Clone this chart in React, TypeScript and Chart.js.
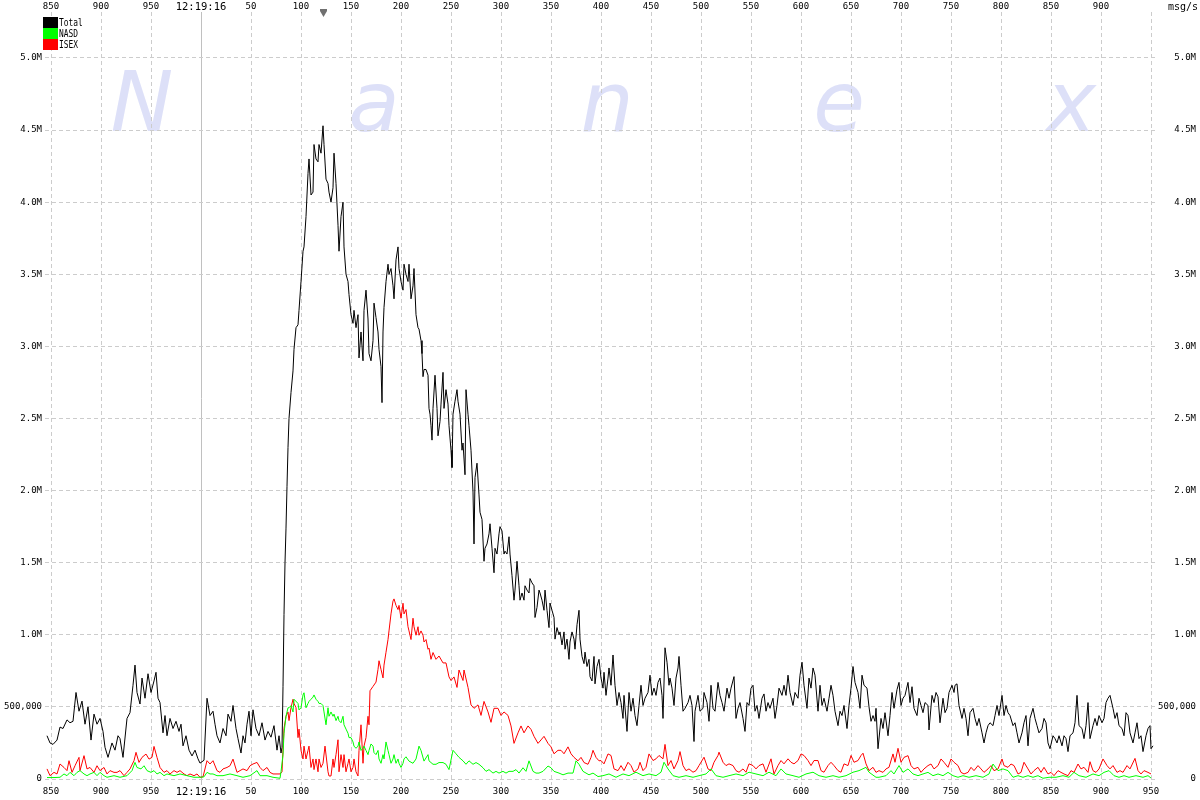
import React, { useEffect, useRef } from 'react';
import { Chart, registerables } from 'chart.js';

Chart.register(...registerables);

// Samples: [milliseconds relative to 12:19:16.000, thousands of msg/s]
const TOTAL: [number, number][] = [
  [-154, 300], [-151, 250], [-148, 240], [-144, 270], [-141, 360], [-138, 350], [-134, 410], [-131, 390], [-128, 400], [-125, 600],
  [-122, 470], [-119, 540], [-116, 380], [-113, 500], [-110, 270], [-107, 450], [-104, 380], [-101, 420], [-98, 330], [-96, 220],
  [-93, 150], [-89, 250], [-86, 200], [-83, 300], [-81, 280], [-78, 150], [-74, 420], [-71, 460], [-68, 650], [-66, 790],
  [-64, 600], [-61, 520], [-59, 700], [-56, 560], [-53, 730], [-50, 600], [-47, 680], [-45, 740], [-43, 560], [-41, 530],
  [-38, 320], [-36, 440], [-34, 300], [-31, 420], [-28, 350], [-25, 400], [-22, 330], [-20, 380], [-18, 230], [-15, 300],
  [-12, 200], [-9, 160], [-6, 200], [-3, 140], [-1, 110], [3, 130], [6, 560], [9, 440], [12, 470], [14, 380],
  [16, 300], [19, 250], [22, 350], [25, 300], [27, 450], [30, 400], [32, 510], [35, 350], [37, 280], [40, 180],
  [42, 300], [44, 250], [46, 380], [48, 470], [50, 300], [52, 480], [55, 350], [58, 300], [61, 390], [64, 270],
  [67, 330], [70, 290], [73, 370], [76, 200], [78, 300], [80, 180], [81, 220],
  [82, 640], [83, 1140], [84, 1500], [85, 1740], [86, 2030], [87, 2300], [88, 2500], [90, 2680], [92, 2830], [93, 2980],
  [95, 3130], [97, 3150], [98, 3250], [100, 3450], [102, 3660], [103, 3690], [105, 3900], [107, 4200], [108, 4300], [110, 4050],
  [112, 4070], [113, 4400], [115, 4300], [117, 4280], [118, 4400], [120, 4340], [122, 4530], [123, 4400], [125, 4160], [127, 4130],
  [128, 4070], [130, 4000], [132, 4100], [133, 4340], [135, 4130], [137, 3840], [138, 3660], [140, 3900], [142, 4000], [143, 3690],
  [145, 3500], [147, 3450], [148, 3360], [150, 3220], [152, 3160], [153, 3250], [155, 3130], [157, 3220], [158, 2920], [160, 3100],
  [162, 2900], [163, 3250], [165, 3390], [167, 3190], [168, 2950], [170, 2900], [172, 3040], [173, 3300], [175, 3200], [177, 3100],
  [178, 2980], [180, 2860], [181, 2610], [182, 3100], [183, 3270], [185, 3450], [187, 3570], [188, 3500], [190, 3540], [192, 3420],
  [193, 3330], [195, 3600], [197, 3690], [198, 3540], [200, 3450], [202, 3390], [203, 3570], [205, 3500], [207, 3450], [208, 3570],
  [210, 3330], [212, 3420], [213, 3540], [215, 3220], [217, 3130], [218, 3120], [220, 3040], [221, 2950], [222, 2790], [223, 2840],
  [225, 2840], [227, 2800], [228, 2570], [229, 2530], [230, 2450], [231, 2350], [232, 2570], [234, 2800], [236, 2570], [237, 2380],
  [239, 2480], [240, 2600], [242, 2820], [243, 2570], [245, 2700], [247, 2600], [248, 2450], [250, 2280], [251, 2160], [252, 2530],
  [254, 2620], [256, 2700], [257, 2620], [259, 2530], [261, 2280], [262, 2330], [264, 2110], [265, 2700], [267, 2530], [268, 2450],
  [270, 2280], [272, 1990], [273, 1630], [274, 2090], [276, 2190], [278, 1970], [279, 1850], [281, 1800], [283, 1510], [284, 1600],
  [286, 1630], [288, 1700], [289, 1770], [291, 1600], [293, 1430], [294, 1600], [296, 1560], [298, 1700], [299, 1750], [301, 1720],
  [303, 1560], [304, 1580], [306, 1560], [308, 1680], [309, 1560], [311, 1410], [313, 1240], [314, 1310], [316, 1510], [318, 1340],
  [319, 1240], [321, 1290], [323, 1240], [324, 1340], [326, 1310], [328, 1290], [329, 1390], [331, 1360], [333, 1340], [334, 1120],
  [336, 1190], [338, 1310], [339, 1290], [341, 1240], [343, 1170], [344, 1310], [346, 1170], [348, 1050], [349, 1220], [351, 1170],
  [353, 1120], [354, 970], [356, 1050], [358, 1000], [359, 1020], [361, 930], [363, 1020], [364, 900], [366, 970], [368, 830],
  [369, 950], [371, 1020], [373, 970], [374, 900], [376, 1070], [378, 1170], [379, 970], [381, 850], [383, 800], [384, 880],
  [386, 780], [388, 830], [389, 710], [391, 680], [393, 850], [394, 660], [396, 780], [398, 830],
  [400, 700], [402, 630], [403, 740], [405, 580], [407, 700], [408, 770], [410, 650], [412, 860], [414, 650], [416, 510],
  [418, 600], [420, 530], [422, 420], [423, 580], [426, 330], [428, 600], [430, 470], [432, 560], [434, 440], [436, 370],
  [438, 510], [440, 650], [442, 510], [444, 560], [447, 600], [449, 720], [451, 580], [453, 630], [455, 580], [457, 670],
  [459, 700], [461, 580], [462, 420], [464, 910], [466, 810], [468, 650], [469, 700], [471, 630], [473, 510], [475, 700],
  [477, 770], [478, 850], [480, 650], [482, 470], [484, 490], [487, 530], [489, 580], [491, 510], [493, 260], [494, 470],
  [497, 580], [499, 470], [502, 490], [503, 600], [506, 530], [508, 400], [510, 650], [512, 490], [514, 470], [517, 670],
  [519, 580], [521, 530], [523, 470], [526, 630], [528, 560], [530, 630], [533, 710], [535, 420], [537, 490], [539, 530],
  [542, 420], [544, 330], [546, 530], [548, 510], [550, 630], [552, 650], [554, 470], [556, 510], [558, 420], [561, 560],
  [563, 590], [565, 470], [567, 530], [569, 490], [572, 560], [574, 420], [576, 510], [578, 630], [581, 580], [583, 650],
  [585, 580], [587, 720], [589, 600], [592, 510], [594, 600], [597, 560], [599, 720], [601, 810], [603, 650], [606, 490],
  [608, 700], [610, 630], [612, 770], [614, 720], [617, 470], [619, 650], [621, 510], [623, 560], [626, 470], [628, 560],
  [630, 650], [632, 580], [634, 470], [637, 370], [639, 470], [641, 440], [643, 510], [646, 350], [648, 510], [650, 630],
  [652, 780], [654, 670], [657, 600], [659, 490], [661, 720], [663, 650], [666, 630], [668, 500], [670, 400], [672, 440],
  [674, 400], [675, 490], [677, 210],
  [680, 420], [682, 350], [684, 460], [687, 300], [689, 440], [691, 600], [693, 490], [696, 620], [698, 670], [700, 510],
  [702, 560], [704, 580], [707, 670], [709, 530], [711, 640], [713, 490], [716, 440], [718, 560], [720, 510], [722, 460],
  [724, 530], [727, 510], [728, 340], [731, 580], [733, 530], [735, 600], [737, 570], [739, 390], [742, 560], [744, 460],
  [746, 490], [748, 600], [751, 650], [753, 600], [754, 650], [756, 660], [758, 510], [761, 420], [763, 490], [765, 420],
  [767, 300], [769, 460], [772, 490], [774, 420], [776, 370], [778, 420], [781, 320], [783, 250], [785, 320], [787, 370],
  [789, 390], [792, 370], [794, 440], [796, 510], [798, 440], [801, 580], [803, 440], [805, 510], [807, 460], [809, 440],
  [812, 370], [814, 390], [816, 320], [818, 250], [821, 320], [823, 390], [825, 440], [827, 230], [829, 420], [832, 490],
  [834, 420], [836, 370], [838, 320], [841, 350], [843, 420], [845, 390], [847, 250], [849, 210], [852, 300], [854, 280],
  [856, 250], [858, 300], [861, 230], [863, 300], [865, 280], [867, 190], [869, 300], [872, 320], [874, 390], [876, 580],
  [878, 370], [881, 350], [883, 280], [885, 370], [887, 530], [889, 280], [892, 370], [894, 420], [896, 370], [898, 440],
  [901, 390], [903, 420], [905, 530], [907, 560], [909, 580], [912, 490], [914, 420], [916, 460], [918, 370], [921, 350],
  [923, 300], [925, 460], [927, 440], [929, 320], [932, 250], [934, 320], [936, 390], [938, 280], [940, 300], [942, 190],
  [945, 300], [947, 350], [949, 370], [950, 210], [952, 230],
];

const NASD: [number, number][] = [
  [-154, 10], [-147, 10], [-141, 12], [-137, 35], [-134, 23], [-131, 46], [-127, 23], [-124, 46], [-121, 58], [-117, 35],
  [-114, 23], [-111, 35], [-107, 46], [-104, 23], [-101, 46], [-97, 23], [-94, 12], [-87, 23], [-81, 12], [-74, 23],
  [-69, 58], [-66, 115], [-64, 80], [-60, 70], [-57, 92], [-54, 58], [-50, 46], [-47, 58], [-44, 35], [-41, 46],
  [-37, 23], [-34, 35], [-27, 23], [-21, 35], [-14, 23], [-7, 12], [-1, 12], [3, 15], [6, 46], [9, 35],
  [12, 35], [16, 23], [22, 23], [29, 35], [36, 23], [42, 12], [49, 23], [56, 58], [59, 23], [66, 23],
  [72, 12], [79, 5],
  [80, 50], [82, 169], [83, 317], [85, 435], [87, 494], [88, 494], [90, 509], [92, 465], [93, 553], [97, 524],
  [98, 479], [100, 494], [102, 583], [103, 598], [105, 494], [107, 524], [108, 538], [110, 553], [112, 568], [113, 583],
  [115, 553], [117, 538], [118, 524], [120, 524], [122, 509], [123, 465], [125, 376], [127, 494], [128, 435], [130, 465],
  [132, 435], [133, 450], [135, 405], [137, 435], [138, 405], [140, 390], [142, 435], [143, 376], [145, 346], [147, 317],
  [148, 287], [150, 287], [152, 257], [153, 228], [155, 213], [157, 228], [158, 257], [160, 198], [162, 213], [163, 228],
  [165, 198], [167, 169], [168, 198], [170, 243], [172, 228], [173, 183], [175, 169], [177, 198], [178, 139], [180, 109],
  [182, 169], [183, 139], [185, 257], [187, 198], [188, 169], [190, 109], [192, 139], [193, 169], [195, 109], [197, 139],
  [198, 109], [200, 80], [202, 109], [203, 139], [205, 154], [208, 124], [212, 109], [215, 139], [218, 228], [220, 198],
  [223, 124], [227, 169],
  [228, 126], [232, 102], [235, 102], [238, 114], [242, 114], [245, 102], [248, 65], [252, 199], [255, 175], [258, 150],
  [262, 126], [265, 102], [268, 126], [272, 102], [275, 114], [278, 102], [282, 78], [285, 53], [288, 65], [292, 41],
  [295, 53], [298, 41], [302, 53], [305, 41], [308, 53], [312, 53], [315, 65], [318, 41], [322, 78], [325, 53],
  [328, 126], [332, 53], [335, 41], [338, 41], [342, 53], [347, 90], [350, 78], [353, 53], [358, 41], [362, 29],
  [367, 41], [372, 41], [375, 126], [378, 102], [382, 53], [385, 41], [388, 29], [392, 41], [397, 17],
  [402, 23], [408, 35], [415, 12], [422, 35], [428, 23], [435, 47], [442, 23], [448, 35], [455, 23], [460, 47],
  [463, 116], [467, 70], [472, 23], [478, 12], [485, 23], [492, 12], [498, 23], [505, 35], [510, 70], [515, 23],
  [522, 12], [528, 23], [535, 35], [542, 23], [548, 47], [555, 35], [562, 23], [568, 47], [575, 23], [580, 70],
  [585, 35], [592, 23], [598, 12], [605, 35], [612, 47], [618, 23], [625, 12], [632, 23], [638, 12], [645, 23],
  [652, 47], [658, 58], [665, 81], [668, 47], [675, 12],
  [678, 12], [685, 23], [690, 58], [693, 35], [698, 93], [702, 46], [707, 70], [712, 35], [717, 23], [722, 35],
  [727, 46], [732, 23], [737, 35], [742, 23], [747, 46], [752, 23], [757, 12], [762, 23], [768, 12], [775, 23],
  [782, 12], [788, 35], [792, 104], [797, 58], [802, 70], [807, 58], [812, 12], [817, 23], [822, 12], [827, 23],
  [832, 12], [837, 23], [842, 5], [848, 12], [855, 12], [862, 23], [868, 12], [873, 46], [878, 23], [885, 12],
  [892, 35], [898, 23], [903, 46], [908, 58], [913, 23], [918, 12], [923, 23], [928, 12], [935, 23], [942, 12],
  [947, 23], [950, 7],
];

const ISEX: [number, number][] = [
  [-154, 70], [-151, 23], [-147, 46], [-144, 35], [-141, 104], [-137, 80], [-134, 58], [-132, 127], [-129, 46], [-126, 92],
  [-122, 150], [-121, 58], [-117, 162], [-114, 70], [-111, 80], [-107, 46], [-104, 92], [-101, 58], [-97, 80], [-94, 35],
  [-91, 58], [-87, 46], [-84, 46], [-81, 58], [-77, 23], [-74, 46], [-71, 70], [-67, 127], [-65, 185], [-62, 115],
  [-59, 150], [-55, 173], [-52, 138], [-49, 150], [-47, 226], [-44, 150], [-41, 80], [-37, 46], [-34, 58], [-31, 35],
  [-27, 58], [-24, 46], [-21, 58], [-17, 35], [-14, 23], [-11, 35], [-7, 23], [-4, 35], [-1, 12], [2, 15],
  [6, 127], [9, 104], [12, 127], [16, 58], [19, 46], [22, 70], [26, 80], [29, 92], [32, 138], [36, 46],
  [39, 58], [42, 70], [46, 58], [49, 92], [52, 104], [56, 115], [59, 80], [62, 58], [66, 80], [69, 46],
  [72, 35], [76, 35], [79, 35], [81, 50],
  [83, 350], [85, 435], [87, 465], [88, 405], [90, 495], [92, 553], [93, 524], [95, 495], [97, 287], [98, 346],
  [100, 198], [102, 139], [103, 228], [105, 139], [107, 198], [108, 228], [110, 80], [112, 139], [113, 65], [115, 139],
  [117, 50], [118, 139], [120, 80], [122, 109], [124, 228], [127, 50], [128, 21], [130, 21], [132, 139], [133, 80],
  [135, 169], [137, 272], [138, 50], [140, 169], [142, 80], [143, 169], [145, 50], [147, 109], [148, 139], [150, 50],
  [152, 80], [153, 139], [155, 50], [157, 21], [158, 198], [160, 376], [162, 109], [163, 228], [165, 287], [167, 435],
  [168, 376], [169, 612], [172, 642], [175, 672], [177, 760], [178, 820], [180, 760], [182, 701], [183, 790], [185, 879],
  [187, 967], [188, 1027], [190, 1145], [192, 1234], [193, 1249], [195, 1204], [197, 1175], [198, 1204], [200, 1115], [202, 1219],
  [203, 1145], [205, 1175], [207, 1056], [208, 1027], [210, 967], [212, 1115], [213, 1056], [215, 997], [217, 1056], [218, 997],
  [220, 1027], [222, 997],
  [223, 950], [225, 967], [227, 900], [228, 908], [230, 830], [232, 877], [235, 830], [238, 853], [242, 805], [245, 805],
  [248, 708], [250, 683], [253, 708], [256, 635], [258, 756], [262, 683], [263, 756], [267, 635], [270, 514], [273, 490],
  [277, 514], [280, 441], [283, 538], [287, 465], [290, 393], [293, 490], [297, 490], [300, 441], [303, 465], [307, 441],
  [310, 368], [313, 247], [317, 320], [320, 368], [323, 320], [327, 368], [330, 344], [333, 296], [337, 247], [340, 271],
  [343, 296], [347, 247], [350, 223], [353, 175], [357, 199], [360, 199], [363, 175], [367, 223], [370, 175], [373, 150],
  [377, 126], [380, 150], [383, 114], [387, 102], [390, 150], [392, 199], [395, 150], [398, 126],
  [400, 128], [403, 105], [407, 174], [410, 163], [413, 70], [417, 58], [420, 93], [423, 58], [427, 116], [430, 93],
  [433, 47], [437, 70], [439, 116], [442, 58], [445, 81], [448, 174], [452, 128], [455, 140], [458, 163], [462, 140],
  [464, 240], [467, 93], [470, 128], [473, 70], [477, 128], [479, 190], [482, 93], [485, 58], [488, 70], [492, 47],
  [495, 58], [498, 93], [503, 151], [507, 70], [510, 58], [513, 116], [517, 163], [518, 186], [522, 116], [525, 93],
  [528, 105], [532, 93], [535, 58], [538, 47], [542, 70], [545, 47], [548, 105], [552, 93], [555, 70], [558, 93],
  [562, 105], [565, 47], [570, 140], [573, 35], [577, 93], [580, 128], [583, 105], [587, 140], [590, 116], [593, 105],
  [597, 128], [600, 174], [603, 163], [607, 128], [610, 93], [613, 128], [617, 128], [620, 58], [623, 47], [627, 93],
  [630, 116], [633, 93], [637, 58], [640, 47], [643, 105], [647, 93], [650, 163], [653, 116], [657, 128], [660, 163],
  [662, 179], [665, 105], [668, 58],
  [672, 81], [675, 46], [678, 58], [682, 46], [685, 70], [688, 81], [692, 174], [694, 116], [697, 213], [700, 116],
  [703, 150], [707, 162], [710, 93], [713, 70], [717, 81], [720, 46], [723, 70], [727, 93], [730, 104], [733, 70],
  [737, 93], [740, 139], [743, 116], [747, 81], [750, 139], [753, 116], [757, 93], [760, 46], [763, 35], [767, 46],
  [770, 81], [773, 58], [777, 93], [780, 70], [783, 46], [787, 70], [790, 93], [793, 58], [797, 70], [801, 139],
  [803, 93], [807, 81], [810, 104], [813, 93], [817, 35], [820, 46], [823, 116], [827, 70], [830, 35], [833, 58],
  [837, 81], [840, 46], [843, 81], [847, 35], [850, 46], [853, 23], [857, 58], [860, 46], [863, 35], [867, 23],
  [870, 58], [873, 46], [877, 104], [880, 70], [883, 81], [887, 46], [889, 120], [892, 58], [895, 46], [898, 70],
  [902, 139], [906, 93], [909, 70], [912, 93], [916, 46], [919, 58], [922, 46], [926, 93], [929, 70], [934, 143],
  [937, 58], [940, 35], [943, 58], [947, 46], [950, 35],
];

const X_TICKS = [-150, -100, -50, 0, 50, 100, 150, 200, 250, 300, 350, 400, 450, 500, 550, 600, 650, 700, 750, 800, 850, 900, 950];
const Y_TICKS = [0, 500000, 1000000, 1500000, 2000000, 2500000, 3000000, 3500000, 4000000, 4500000, 5000000];

const SERIES_NAMES = ['Total', 'NASD', 'ISEX'];
const SERIES_COLORS = ['#000000', '#00ff00', '#ff0000'];
const SERIES_SAMPLES = [TOTAL, NASD, ISEX];

const SECOND_LABEL = '12:19:16';
const UNIT_LABEL = 'msg/s';
const WATERMARK = ['N', 'a', 'n', 'e', 'x'];
const PEAK_MARK_MS = 122;

const X_MIN = -156;
const X_MAX = 954;
const Y_MIN = -41600;
const Y_MAX = 5319000;

const xLabel = (v: number) => (v === 0 ? SECOND_LABEL : String(v < 0 ? 1000 + v : v));
const yLabel = (v: number) => (v === 0 ? '0' : v === 500000 ? '500,000' : (v / 1e6).toFixed(1) + 'M');

const MONO = '"DejaVu Sans Mono", monospace';
const TICK_FONT = { family: MONO, size: 9 };
const SECOND_FONT_BOTTOM = { family: MONO, size: 10.5 };
const SECOND_FONT_TOP = { family: MONO, size: 10.5, lineHeight: 0.9 };

const overlayPlugin = {
  id: 'nanexOverlay',
  beforeDraw(chart: any) {
    const ctx = chart.ctx as CanvasRenderingContext2D;
    ctx.save();
    ctx.fillStyle = 'rgb(221,224,248)';
    ctx.font = 'oblique 84px "DejaVu Sans"';
    ctx.textAlign = 'center';
    ctx.textBaseline = 'alphabetic';
    const xs = [142, 374, 607, 839, 1071];
    WATERMARK.forEach((ch, i) => ctx.fillText(ch, xs[i], 131));
    ctx.restore();
  },
  afterDraw(chart: any) {
    const ctx = chart.ctx as CanvasRenderingContext2D;
    ctx.save();
    SERIES_NAMES.forEach((name, i) => {
      const y0 = 17 + i * 11;
      ctx.fillStyle = SERIES_COLORS[i];
      ctx.fillRect(43, y0, 15, 11);
      ctx.fillStyle = '#000';
      ctx.font = '10px "DejaVu Sans Mono"';
      ctx.textBaseline = 'middle';
      ctx.textAlign = 'left';
      ctx.save();
      ctx.translate(59, y0 + 6);
      ctx.scale(0.79, 1);
      ctx.fillText(name, 0, 0);
      ctx.restore();
    });
    ctx.fillStyle = '#000';
    ctx.font = '10px "DejaVu Sans Mono"';
    ctx.textAlign = 'right';
    ctx.textBaseline = 'alphabetic';
    ctx.fillText(UNIT_LABEL, 1198, 10);
    const mx = chart.scales.x.getPixelForValue(PEAK_MARK_MS) + 0.5;
    ctx.fillStyle = '#707070';
    ctx.fillRect(mx - 3.5, 9, 7, 2);
    ctx.beginPath();
    ctx.moveTo(mx - 3.5, 11);
    ctx.lineTo(mx + 3.5, 11);
    ctx.lineTo(mx, 17);
    ctx.closePath();
    ctx.fill();
    ctx.restore();
  },
};

export default function App() {
  const canvasRef = useRef<HTMLCanvasElement | null>(null);

  useEffect(() => {
    document.body.style.margin = '0';
    const canvas = canvasRef.current;
    if (!canvas) return;

    const datasets = SERIES_NAMES.map((name, si) => ({
      label: name,
      data: SERIES_SAMPLES[si].map(([ms, k]) => ({ x: ms, y: k * 1000 })),
      borderColor: SERIES_COLORS[si],
      backgroundColor: SERIES_COLORS[si],
      borderWidth: 1,
      pointRadius: 0,
      tension: 0,
      fill: false,
      xAxisID: 'x',
      yAxisID: 'y',
    }));

    const chart = new Chart(canvas, {
      type: 'line',
      data: { datasets },
      plugins: [overlayPlugin],
      options: {
        animation: false,
        responsive: false,
        devicePixelRatio: 1,
        layout: { padding: { left: 0, top: 0, bottom: 0, right: 4 } },
        plugins: { legend: { display: false }, tooltip: { enabled: false } },
        events: [],
        scales: {
          x: {
            type: 'linear',
            position: 'bottom',
            min: X_MIN,
            max: X_MAX,
            bounds: 'data',
            afterBuildTicks: (s: any) => { s.ticks = X_TICKS.map((v) => ({ value: v })); },
            afterFit: (s: any) => { s.height = 15; },
            grid: {
              drawTicks: false,
              lineWidth: 1,
              color: (c: any) => (c.tick && c.tick.value === 0 ? '#c0c0c0' : '#cccccc'),
            },
            border: {
              display: false,
              dash: (c: any) => (c.tick && c.tick.value === 0 ? [] : [4, 3]),
            },
            ticks: {
              autoSkip: false,
              maxRotation: 0,
              padding: 1,
              color: '#000',
              font: (c: any) => (c.tick && c.tick.value === 0 ? SECOND_FONT_BOTTOM : TICK_FONT),
              callback: (v: any) => xLabel(Number(v)),
            },
          },
          xTop: {
            type: 'linear',
            position: 'top',
            min: X_MIN,
            max: X_MAX,
            bounds: 'data',
            afterBuildTicks: (s: any) => { s.ticks = X_TICKS.map((v) => ({ value: v })); },
            afterFit: (s: any) => { s.height = 12; },
            grid: { display: false, drawTicks: false },
            border: { display: false },
            ticks: {
              autoSkip: false,
              maxRotation: 0,
              padding: 0,
              color: '#000',
              font: (c: any) => (c.tick && c.tick.value === 0 ? SECOND_FONT_TOP : TICK_FONT),
              callback: (v: any) => (Number(v) === 950 ? '' : xLabel(Number(v))),
            },
          },
          y: {
            type: 'linear',
            position: 'left',
            min: Y_MIN,
            max: Y_MAX,
            bounds: 'data',
            afterBuildTicks: (s: any) => { s.ticks = Y_TICKS.map((v) => ({ value: v })); },
            afterFit: (s: any) => { s.width = 45; },
            grid: { drawTicks: false, lineWidth: 1, color: '#cccccc' },
            border: { display: false, dash: [4, 3] },
            ticks: {
              padding: 3,
              color: '#000',
              font: TICK_FONT,
              callback: (v: any) => yLabel(Number(v)),
            },
          },
          yRight: {
            type: 'linear',
            position: 'right',
            min: Y_MIN,
            max: Y_MAX,
            bounds: 'data',
            afterBuildTicks: (s: any) => { s.ticks = Y_TICKS.map((v) => ({ value: v })); },
            afterFit: (s: any) => { s.width = 41; },
            grid: { display: false, drawTicks: false },
            border: { display: false },
            ticks: {
              padding: 0,
              crossAlign: 'far',
              color: '#000',
              font: TICK_FONT,
              callback: (v: any) => yLabel(Number(v)),
            },
          },
        },
      } as any,
    });

    return () => chart.destroy();
  }, []);

  return (
    <div style={{ position: 'absolute', left: 0, top: 0, width: 1200, height: 800, background: '#fff' }}>
      <canvas ref={canvasRef} width={1200} height={800} style={{ display: 'block', width: 1200, height: 800 }} />
    </div>
  );
}
